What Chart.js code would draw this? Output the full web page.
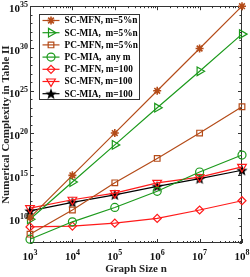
<!DOCTYPE html>
<html lang="en">
<head>
<meta charset="UTF-8">
<title>Numerical Complexity vs Graph Size</title>
<script src="https://cdn.jsdelivr.net/npm/chart.js"></script>
<style>
  body { margin: 0; background: #fff; }
  canvas { display: block; }
</style>
</head>
<body>
<canvas id="chart" width="250" height="277"></canvas>
<script>
// graph sizes n (x axis)
const graphSizes = [1e3, 1e4, 1e5, 1e6, 1e7, 1e8];

// numerical complexity per method
const scMfn5 = [1e10, 1e15, 1e20, 1e25, 1e30, 1e35];
const scMia5 = [6.3e9, 1.6e14, 4e18, 1e23, 2e27, 5e31];
const pcMfn5 = [1.1e8, 8e10, 1.3e14, 1e17, 1e20, 1.3e23];
const pcMiaAny = [2.8e7, 3.2e9, 1.6e11, 1.3e13, 2.5e15, 2.5e17];
const pcMfn100 = [8e8, 1e9, 2.2e9, 8e9, 8e10, 1e12];
const scMfn100 = [1.3e11, 1.3e12, 8e12, 1.3e14, 6.3e14, 1e16];
const scMia100 = [6.3e10, 6.3e11, 5e12, 5e13, 4e14, 4e15];

const seriesNames = [
  'SC-MFN, m=5%n', 'SC-MIA,  m=5%n', 'PC-MFN, m=5%n', 'PC-MIA,  any m',
  'PC-MFN, m=100', 'SC-MFN, m=100', 'SC-MIA,  m=100'
];

// axis ticks (powers of ten)
const xTickExps = [3, 4, 5, 6, 7, 8];
const yLabelExps = [10, 15, 20, 25, 30, 35];
const yRangeExps = [7, 35];

const BROWN = '#b44b18';
const GREEN = '#1c9a1c';
const RED = '#ff1a1a';
const FONT = '"Liberation Serif", "Times New Roman", serif';

function pentagram(size, color) {
  const c = document.createElement('canvas');
  c.width = c.height = size;
  const g = c.getContext('2d');
  const r = size / 2, ri = r * 0.42;
  g.beginPath();
  for (let i = 0; i < 10; i++) {
    const rad = i % 2 ? ri : r;
    const a = -Math.PI / 2 + i * Math.PI / 5;
    g.lineTo(r + rad * Math.cos(a), r + 0.5 + rad * Math.sin(a));
  }
  g.closePath();
  g.fillStyle = color;
  g.fill();
  return c;
}

function series(label, data, color, style, extra) {
  return Object.assign({
    label: label,
    data: data,
    borderColor: color,
    backgroundColor: 'rgba(0,0,0,0)',
    pointBorderColor: color,
    pointBackgroundColor: 'rgba(0,0,0,0)',
    borderWidth: 1.2,
    pointBorderWidth: 1.2,
    pointRadius: 4,
    pointStyle: style,
    pointRotation: 0,
    tension: 0,
    clip: 12
  }, extra || {});
}

const datasets = [
  series(seriesNames[0], scMfn5, BROWN, 'star', { pointBorderWidth: 1.6, pointRadius: 4 }),
  series(seriesNames[1], scMia5, GREEN, 'triangle', { pointRotation: 90, pointRadius: 5 }),
  series(seriesNames[2], pcMfn5, BROWN, 'rect', { pointRadius: 4 }),
  series(seriesNames[3], pcMiaAny, GREEN, 'circle'),
  series(seriesNames[4], pcMfn100, RED, 'rectRot'),
  series(seriesNames[5], scMfn100, RED, 'triangle', { pointRotation: 180, pointRadius: 5 }),
  series(seriesNames[6], scMia100, '#000', pentagram(12, '#000'))
];

// box and inward tick marks, MATLAB style
const framePlugin = {
  id: 'frame',
  beforeDatasetsDraw(chart) {
    const { ctx, chartArea: a, scales } = chart;
    ctx.save();
    ctx.strokeStyle = '#333';
    ctx.lineWidth = 1;
    ctx.strokeRect(Math.round(a.left) + 0.5, Math.round(a.top) + 0.5,
      Math.round(a.right - a.left) - 1, Math.round(a.bottom - a.top) - 1);
    ctx.beginPath();
    scales.x.ticks.forEach(t => {
      const px = Math.round(scales.x.getPixelForValue(t.value)) + 0.5;
      const len = t.label ? 4 : 2;
      ctx.moveTo(px, a.bottom); ctx.lineTo(px, a.bottom - len);
      ctx.moveTo(px, a.top); ctx.lineTo(px, a.top + len);
    });
    scales.y.ticks.forEach(t => {
      const py = Math.round(scales.y.getPixelForValue(t.value)) + 0.5;
      const len = t.label ? 4 : 2.5;
      ctx.moveTo(a.left, py); ctx.lineTo(a.left + len, py);
      ctx.moveTo(a.right, py); ctx.lineTo(a.right - len, py);
    });
    ctx.stroke();
    ctx.restore();
  }
};

// 10^k tick labels with a raised exponent
const powerLabels = {
  id: 'powerLabels',
  afterDraw(chart) {
    const { ctx, chartArea: a, scales } = chart;
    const baseFont = 'bold 11px ' + FONT;
    const expFont = 'bold 8px ' + FONT;
    ctx.save();
    ctx.fillStyle = '#111';
    ctx.textBaseline = 'alphabetic';
    ctx.textAlign = 'left';
    function piece(e) {
      ctx.font = baseFont;
      const w1 = ctx.measureText('10').width;
      ctx.font = expFont;
      const w2 = ctx.measureText(String(e)).width;
      return [w1, w2];
    }
    function draw(e, x, y) {
      const [w1] = piece(e);
      ctx.font = baseFont;
      ctx.fillText('10', x, y);
      ctx.font = expFont;
      ctx.fillText(String(e), x + w1, y - 5);
    }
    xTickExps.forEach(e => {
      const px = scales.x.getPixelForValue(Math.pow(10, e));
      const [w1, w2] = piece(e);
      draw(e, px - (w1 + w2) / 2, a.bottom + 17);
    });
    yLabelExps.forEach(e => {
      const py = scales.y.getPixelForValue(Math.pow(10, e));
      const [w1, w2] = piece(e);
      draw(e, a.left - 2 - w1 - w2, py + 6);
    });
    ctx.restore();
  }
};

// legend drawn inside the plot
const legendPlugin = {
  id: 'insideLegend',
  afterDraw(chart) {
    const ctx = chart.ctx;
    const bx = 39.5, by = 14.5, bw = 100, bh = 85;
    ctx.save();
    ctx.fillStyle = '#fff';
    ctx.fillRect(bx, by, bw, bh);
    ctx.strokeStyle = '#333';
    ctx.lineWidth = 1;
    ctx.strokeRect(bx, by, bw, bh);
    ctx.font = 'bold 9.3px ' + FONT;
    ctx.textBaseline = 'middle';
    chart.data.datasets.forEach((ds, i) => {
      const y = by + 6 + i * 12.2;
      ctx.strokeStyle = ds.borderColor;
      ctx.lineWidth = ds.borderWidth;
      ctx.beginPath();
      ctx.moveTo(bx + 3, y); ctx.lineTo(bx + 20, y);
      ctx.stroke();
      ctx.fillStyle = ds.pointBackgroundColor;
      ctx.lineWidth = ds.pointBorderWidth;
      Chart.helpers.drawPoint(ctx, {
        pointStyle: ds.pointStyle,
        rotation: ds.pointRotation,
        radius: ds.pointRadius,
        borderWidth: ds.pointBorderWidth
      }, bx + 11.5, y);
      ctx.fillStyle = '#000';
      ctx.fillText(ds.label, bx + 25, y + 0.5);
    });
    ctx.restore();
  }
};

new Chart(document.getElementById('chart'), {
  type: 'line',
  data: { labels: graphSizes, datasets: datasets.map(d => Object.assign(d, {
    data: d.data.map((v, i) => ({ x: graphSizes[i], y: v }))
  })) },
  options: {
    responsive: false,
    animation: false,
    layout: { padding: { top: 6, right: 8, left: 0, bottom: 0 } },
    plugins: { legend: { display: false }, tooltip: { enabled: false } },
    scales: {
      x: {
        type: 'logarithmic',
        min: Math.pow(10, xTickExps[0]),
        max: Math.pow(10, xTickExps[xTickExps.length - 1]),
        grid: { display: false, drawTicks: false },
        border: { display: false },
        afterBuildTicks(scale) {
          const ticks = [];
          xTickExps.forEach((e, k) => {
            const base = Math.pow(10, e);
            ticks.push({ value: base });
            if (k < xTickExps.length - 1) {
              for (let m = 2; m <= 9; m++) ticks.push({ value: m * base });
            }
          });
          scale.ticks = ticks;
        },
        ticks: {
          display: false,
          autoSkip: false,
          callback(value) {
            const e = Math.round(Math.log10(value));
            return Math.abs(Math.pow(10, e) - value) / value < 1e-9 ? '10^' + e : '';
          }
        },
        title: {
          display: true,
          text: 'Graph Size n',
          color: '#222',
          font: { family: FONT, size: 11, weight: 'bold' },
          padding: { top: 0, bottom: 1 }
        },
        afterFit(scale) { scale.height = 34; }
      },
      y: {
        type: 'logarithmic',
        min: Math.pow(10, yRangeExps[0]),
        max: Math.pow(10, yRangeExps[1]),
        grid: { display: false, drawTicks: false },
        border: { display: false },
        afterBuildTicks(scale) {
          const ticks = [];
          for (let e = yRangeExps[0]; e <= yRangeExps[1]; e++) ticks.push({ value: Math.pow(10, e) });
          scale.ticks = ticks;
        },
        ticks: {
          display: false,
          autoSkip: false,
          callback(value) {
            const e = Math.round(Math.log10(value));
            return yLabelExps.includes(e) ? '10^' + e : '';
          }
        },
        title: {
          display: true,
          text: 'Numerical Complexity in Table II',
          color: '#222',
          font: { family: FONT, size: 11, weight: 'bold' },
          padding: { top: 0, bottom: 0 }
        },
        afterFit(scale) { scale.width = 30; }
      }
    }
  },
  plugins: [framePlugin, powerLabels, legendPlugin]
});
</script>
</body>
</html>
